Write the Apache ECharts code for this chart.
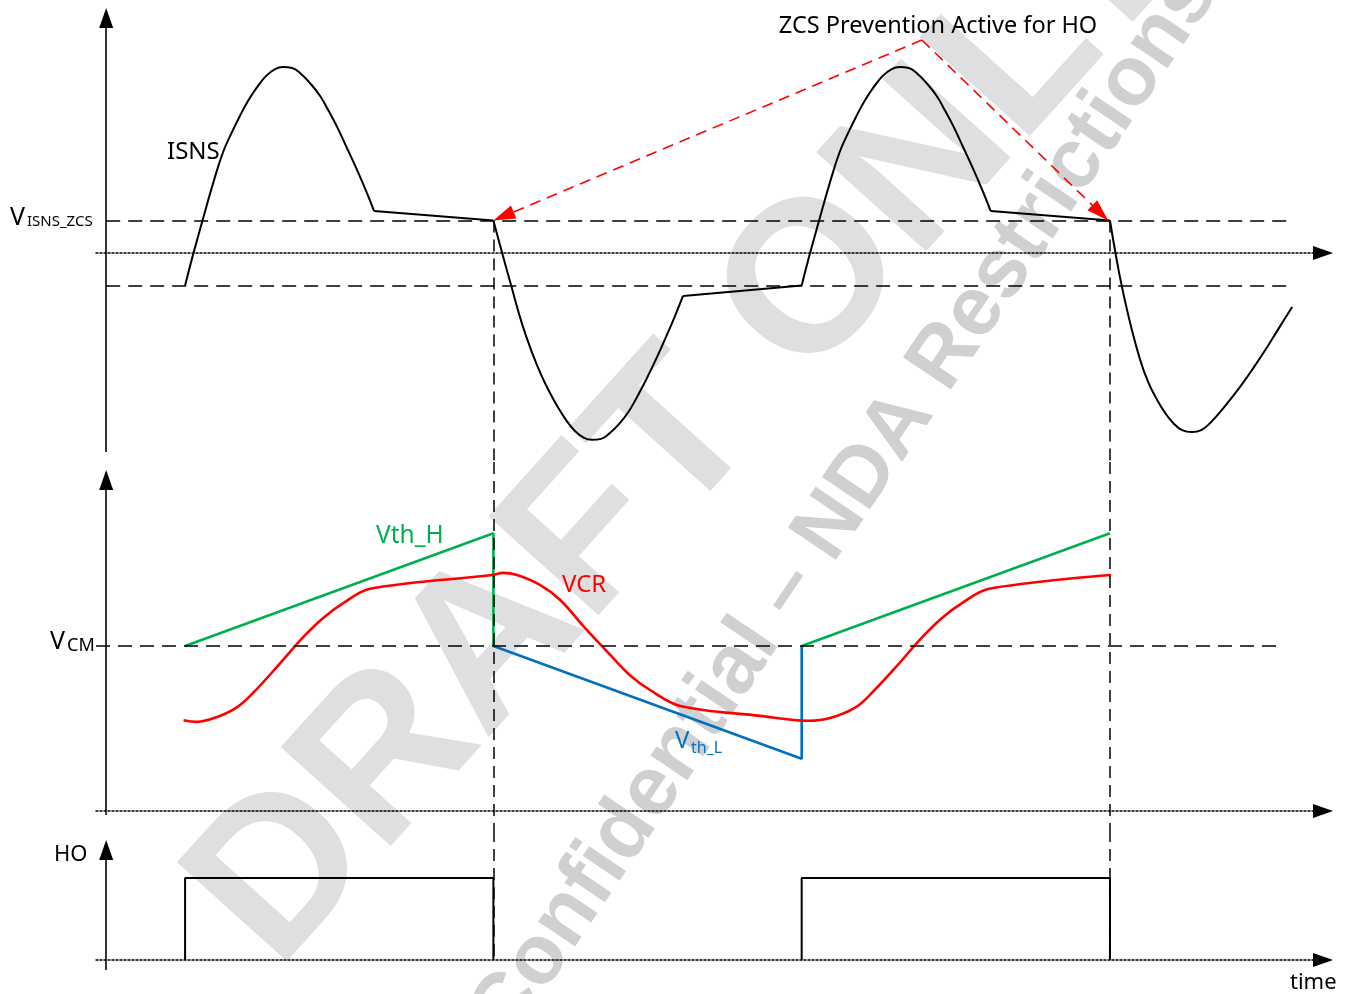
<!DOCTYPE html>
<html><head><meta charset="utf-8">
<script src="https://cdn.jsdelivr.net/npm/echarts@6/dist/echarts.min.js"></script>
<style>html,body{margin:0;padding:0;background:#fff}#c{width:1351px;height:994px}</style>
</head><body><div id="c"></div>
<script>
// ---------- data (time in switching half-periods) ----------
const isnsT = [
  0.0, 0.023, 0.055, 0.091, 0.123, 0.152, 0.178, 0.204, 0.234, 0.263, 0.292, 0.318, 0.347, 0.376, 0.405, 0.438, 0.464, 0.493, 0.525, 0.558, 0.587, 0.613,
  1.0, 1.025, 1.057, 1.093, 1.126, 1.155, 1.181, 1.207, 1.236, 1.265, 1.294, 1.320, 1.349, 1.378, 1.408, 1.440, 1.466, 1.495, 1.528, 1.560, 1.589, 1.615,
  2.0, 2.023, 2.055, 2.091, 2.123, 2.152, 2.178, 2.204, 2.234, 2.263, 2.292, 2.318, 2.347, 2.376, 2.405, 2.438, 2.464, 2.493, 2.525, 2.558, 2.587, 2.613,
  3.0, 3.019, 3.039, 3.068, 3.098, 3.124, 3.153, 3.179, 3.205, 3.234, 3.266, 3.296, 3.325, 3.373, 3.422, 3.467, 3.510, 3.552, 3.591];
const isnsV = [
  -1.0, -0.15, 0.95, 2.15, 3.10, 3.72, 4.22, 4.68, 5.11, 5.45, 5.66, 5.72, 5.69, 5.51, 5.23, 4.83, 4.40, 3.88, 3.23, 2.55, 1.91, 1.29,
  1.0, 0.12, -0.98, -2.18, -3.08, -3.75, -4.26, -4.71, -5.14, -5.48, -5.69, -5.75, -5.72, -5.54, -5.26, -4.86, -4.43, -3.91, -3.26, -2.58, -1.94, -1.32,
  -1.0, -0.15, 0.95, 2.15, 3.10, 3.72, 4.22, 4.68, 5.11, 5.45, 5.66, 5.72, 5.69, 5.51, 5.23, 4.83, 4.40, 3.88, 3.23, 2.55, 1.91, 1.29,
  1.0, -0.06, -1.05, -2.25, -3.29, -3.97, -4.52, -4.92, -5.23, -5.45, -5.51, -5.45, -5.23, -4.71, -4.12, -3.51, -2.89, -2.25, -1.66];
const isnsBreaks = [21, 22, 43, 44, 65, 66];   // sharp corners of the ISNS trace

const vcrT = [-0.005, 0.039, 0.104, 0.169, 0.221, 0.298, 0.383, 0.448, 0.513, 0.600, 0.996, 1.031,
  1.077, 1.151, 1.216, 1.297, 1.379, 1.443, 1.508, 1.606, 1.865, 2.021,
  2.092, 2.176, 2.228, 2.306, 2.391, 2.455, 2.520, 2.608, 3.004];
const vcrV = [1.65, 1.62, 1.71, 1.89, 2.15, 2.62, 3.16, 3.51, 3.78, 4.04, 4.29, 4.33,
  4.29, 4.11, 3.84, 3.33, 2.84, 2.47, 2.20, 1.91, 1.73, 1.64,
  1.69, 1.89, 2.15, 2.62, 3.16, 3.51, 3.78, 4.04, 4.29];

const vthH1T = [0, 1, 1],   vthH1V = [3, 5.05, 3];
const vthH2T = [2, 3],      vthH2V = [3, 5.05];
const vthLT  = [1, 2, 2],   vthLV  = [3, 0.95, 3];

const ho1T = [0, 0, 1, 1],  ho1V = [0, 1, 1, 0];
const ho2T = [2, 2, 3, 3],  ho2V = [0, 1, 1, 0];

const zcsHigh = 1, zcsLow = -1, vcmLevel = 3;
const eventT = [1, 3];
const zcsApex = [2.390, 6.554];

// ---------- layout / styles ----------
const T_MIN = -0.289, T_MAX = 3.691, T_YAX = -0.256;
const FONT = '"Noto Sans", "DejaVu Sans", sans-serif';
const zip = (a, b) => a.map((x, i) => [x, b[i]]);

const AXIS_LS = {color: '#000', width: 1.6, type: 'solid'};
const DASH_LS = {color: '#000', width: 1.5, type: [14, 8]};
const VDASH_LS = {color: '#000', width: 1.5, type: [12, 7]};
const RED_LS = {color: '#ff0000', width: 1.6, type: [11, 7]};

function seg(p, q, ls, arrow) {
  const a = {coord: p, lineStyle: ls, symbol: 'none'};
  const b = {coord: q, lineStyle: ls, symbol: arrow ? 'triangle' : 'none'};
  if (arrow) {
    b.symbolSize = arrow.size;
    if (arrow.offset) b.symbolOffset = arrow.offset;
    b.itemStyle = {color: ls.color};
  }
  return [a, b];
}
function markLine(data) {
  return {silent: true, symbol: ['none', 'none'], label: {show: false},
    emphasis: {disabled: true}, animation: false, data};
}
function xAx(i) {
  return {type: 'value', gridIndex: i, min: T_MIN, max: T_MAX,
    axisLine: {show: true, onZero: true, symbol: ['none', 'triangle'], symbolSize: [14, 20],
      lineStyle: {color: '#000', width: 1.5, type: [2, 2]}},
    axisTick: {show: false}, axisLabel: {show: false}, splitLine: {show: false}};
}
function yAx(i, min, max) {
  return {type: 'value', gridIndex: i, min, max,
    axisLine: {show: false}, axisTick: {show: false}, axisLabel: {show: false}, splitLine: {show: false}};
}
function line(gi, pts, color, width, smooth, extra) {
  return Object.assign({type: 'line', xAxisIndex: gi, yAxisIndex: gi, data: pts, symbol: 'none',
    showSymbol: false, smooth: smooth, lineStyle: {color, width}, silent: true, z: 3,
    emphasis: {disabled: true}}, extra || {});
}

// ISNS split at corners
const isnsPts = zip(isnsT, isnsV);
const cuts = [0, ...isnsBreaks, isnsPts.length - 1];
const isnsSeries = [];
for (let k = 0; k < cuts.length - 1; k++) {
  isnsSeries.push(line(0, isnsPts.slice(cuts[k], cuts[k + 1] + 1), '#000', 2, 0.45));
}
const Y0 = [-6.431, 7.785], Y1 = [-0.345, 6.345], Y2 = [-0.415, 1.585];

isnsSeries[0].markLine = markLine([
  seg([T_YAX, -6.123], [T_YAX, 7.231], AXIS_LS, {size: [14, 20]}),
  seg([T_YAX, zcsHigh], [3.584, zcsHigh], DASH_LS),
  seg([T_YAX, zcsLow], [3.584, zcsLow], DASH_LS),
  ...eventT.map(t => seg([t, zcsHigh], [t, Y0[0] + 0.001], VDASH_LS)),
  seg(zcsApex, [eventT[0], zcsHigh], RED_LS, {size: [14, 22], offset: [0, 11]}),
  seg(zcsApex, [eventT[1] - 0.006, zcsHigh], RED_LS, {size: [14, 22], offset: [0, 11]})
]);

const vcrSeries = line(1, zip(vcrT, vcrV), '#ff0000', 2.6, 0.35);
vcrSeries.markLine = markLine([
  seg([T_YAX, -0.073], [T_YAX, 6.018], AXIS_LS, {size: [14, 20]}),
  seg([T_MIN, vcmLevel], [3.552, vcmLevel], DASH_LS),
  ...eventT.map(t => seg([t, Y1[1] - 0.001], [t, Y1[0] + 0.001], VDASH_LS))
]);

const ho1 = line(2, zip(ho1T, ho1V), '#000', 2, false);
ho1.markLine = markLine([
  seg([T_YAX, -0.122], [T_YAX, 1.341], AXIS_LS, {size: [14, 20]}),
  ...eventT.map(t => seg([t, Y2[1] - 0.001], [t, 0], VDASH_LS))
]);

const GREEN = '#00b050', BLUE = '#0070c0';

function txt(x, y, text, size, color, align) {
  return {type: 'text', x, y, z: 100, silent: true,
    style: {text, font: `${size}px ${FONT}`, fill: color || '#000',
      align: align || 'left', verticalAlign: 'middle', textAlign: align || 'left', textVerticalAlign: 'middle'}};
}
function wm(x, y, deg, text, size, color) {
  return {type: 'text', x, y, rotation: deg * Math.PI / 180, z: -10, silent: true,
    style: {text, font: `bold ${size}px "Liberation Sans", Arial, sans-serif`, fill: color,
      align: 'center', verticalAlign: 'middle', textAlign: 'center', textVerticalAlign: 'middle'}};
}

const option = {
  animation: false,
  backgroundColor: '#fff',
  grid: [
    {left: 96, right: 28, top: 0, height: 462},
    {left: 96, right: 28, top: 462, height: 368},
    {left: 96, right: 28, top: 830, height: 164}
  ],
  xAxis: [xAx(0), xAx(1), xAx(2)],
  yAxis: [yAx(0, Y0[0], Y0[1]), yAx(1, Y1[0], Y1[1]), yAx(2, Y2[0], Y2[1])],
  series: [
    ...isnsSeries,
    line(1, zip(vthH1T, vthH1V), GREEN, 2.6, false),
    line(1, zip(vthH2T, vthH2V), GREEN, 2.6, false),
    line(1, zip(vthLT, vthLV), BLUE, 2.6, false),
    vcrSeries,
    ho1,
    line(2, zip(ho2T, ho2V), '#000', 2, false)
  ],
  graphic: {elements: [
    wm(690, 425, 48, 'DRAFT ONLY', 215, '#dedfe1'),
    wm(845, 505, 56, 'Confidential \u2013 NDA Restrictions', 84, '#cfd0d2'),
    txt(167, 152, 'ISNS', 24),
    txt(938, 26, 'ZCS Prevention Active for HO', 23.5, '#000', 'center'),
    txt(10, 218, 'V', 25),
    txt(27, 222, 'ISNS_ZCS', 15),
    txt(50, 642, 'V', 25),
    txt(67, 646, 'CM', 18),
    txt(376, 536, 'Vth_H', 24.5, GREEN),
    txt(562, 585, 'VCR', 24, '#ff0000'),
    txt(675, 741, 'V', 24, BLUE),
    txt(691, 748, 'th_L', 16, BLUE),
    txt(54, 855, 'HO', 22),
    txt(1290, 983, 'time', 22)
  ]}
};
const chart = echarts.init(document.getElementById('c'));
chart.setOption(option);
</script></body></html>
